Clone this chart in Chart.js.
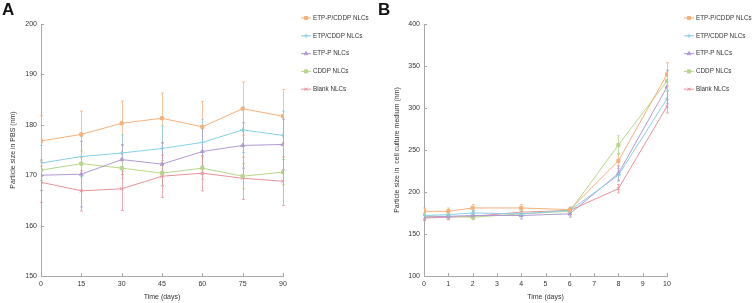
<!DOCTYPE html>
<html>
<head>
<meta charset="utf-8">
<script src="https://cdn.jsdelivr.net/npm/chart.js@4"></script>
<style>
  body { margin: 0; background: #fff; }
  .panel { position: absolute; top: 0; height: 303px; }
  #wrapA { left: 0; width: 376px; }
  #wrapB { left: 376px; width: 377px; }
</style>
</head>
<body>
<div class="panel" id="wrapA"><canvas id="chartA"></canvas></div>
<div class="panel" id="wrapB"><canvas id="chartB"></canvas></div>
<script>
// series names / colours
const seriesNames = ['ETP-P/CDDP NLCs', 'ETP/CDDP NLCs', 'ETP-P NLCs', 'CDDP NLCs', 'Blank NLCs'];
const seriesColors = ['#f6b07a', '#86d0e4', '#b29ad4', '#b6d68a', '#e6929a'];
const pointStyles = ['rect', 'cross', 'triangle', 'rect', 'crossRot'];

// panel A: PBS, days 0-90
const daysA = [0, 15, 30, 45, 60, 75, 90];
const pbsEtpPCddp = [176.8, 178.1, 180.3, 181.3, 179.6, 183.2, 181.7];
const pbsEtpCddp  = [172.4, 173.7, 174.4, 175.3, 176.5, 179.0, 177.9];
const pbsEtpP     = [170.0, 170.2, 173.1, 172.2, 174.7, 175.9, 176.1];
const pbsCddp     = [171.0, 172.3, 171.4, 170.4, 171.4, 169.8, 170.6];
const pbsBlank    = [168.6, 166.9, 167.3, 169.8, 170.4, 169.4, 168.8];
const pbsErrEtpPCddp = [5.0, 4.6, 4.4, 5.0, 5.0, 5.3, 5.3];
const pbsErrEtpCddp  = [3.5, 4.0, 3.6, 4.5, 4.6, 4.5, 4.8];
const pbsErrEtpP     = [3.0, 6.5, 3.0, 4.3, 4.5, 4.5, 5.0];
const pbsErrCddp     = [2.0, 2.5, 2.0, 2.5, 2.2, 2.5, 2.5];
const pbsErrBlank    = [4.0, 4.0, 4.3, 4.2, 3.5, 4.2, 4.8];

// panel B: cell culture medium, days 0-10
const daysB = [0, 1, 2, 4, 6, 8, 10];
const ccmEtpPCddp = [177, 177, 181, 181, 179, 237, 340];
const ccmEtpCddp  = [172, 173, 175, 174, 178, 220, 311];
const ccmEtpP     = [170, 171, 172, 172, 174, 222, 325];
const ccmCddp     = [171, 171, 170, 174, 177, 256, 332];
const ccmBlank    = [169, 170, 171, 176, 178, 204, 302];
const ccmErrEtpPCddp = [4, 4, 4, 4, 3, 9, 14];
const ccmErrEtpCddp  = [3, 3, 3, 3, 4, 6, 10];
const ccmErrEtpP     = [3, 3, 3, 4, 4, 9, 20];
const ccmErrCddp     = [3, 3, 3, 3, 4, 11, 12];
const ccmErrBlank    = [3, 3, 3, 3, 3, 5, 8];

const font = "'Liberation Sans', Arial, sans-serif";

function makeDatasets(xs, values, errors) {
  return values.map((vals, i) => ({
    label: seriesNames[i],
    data: xs.map((x, j) => ({ x: x, y: vals[j], err: errors[i][j] })),
    borderColor: seriesColors[i],
    backgroundColor: seriesColors[i],
    borderWidth: 1,
    pointStyle: pointStyles[i],
    pointRadius: 2.2,
    pointBorderWidth: 1,
    tension: 0
  }));
}

// error bars + inward ticks + legend + panel letter
const extrasPlugin = {
  id: 'extras',
  beforeDatasetsDraw(chart, args, opts) {
    const ctx = chart.ctx;
    const xs = chart.scales.x, ys = chart.scales.y;
    ctx.save();
    chart.data.datasets.forEach((ds, i) => {
      ctx.strokeStyle = ds.borderColor;
      ctx.globalAlpha = 0.75;
      ctx.lineWidth = 1;
      ds.data.forEach(p => {
        const px = Math.round(xs.getPixelForValue(p.x)) + 0.5;
        const top = ys.getPixelForValue(p.y + p.err);
        const bot = ys.getPixelForValue(p.y - p.err);
        ctx.beginPath();
        ctx.moveTo(px, top); ctx.lineTo(px, bot);
        ctx.moveTo(px - 1.5, top); ctx.lineTo(px + 1.5, top);
        ctx.moveTo(px - 1.5, bot); ctx.lineTo(px + 1.5, bot);
        ctx.stroke();
      });
    });
    ctx.restore();
  },
  afterDraw(chart, args, opts) {
    const ctx = chart.ctx;
    const area = chart.chartArea;
    const xs = chart.scales.x, ys = chart.scales.y;
    ctx.save();
    // ticks pointing into the plot
    ctx.strokeStyle = '#a8a8a8';
    ctx.lineWidth = 1;
    ctx.beginPath();
    xs.ticks.forEach(t => {
      const px = Math.round(xs.getPixelForValue(t.value)) + 0.5;
      ctx.moveTo(px, area.bottom); ctx.lineTo(px, area.bottom - 3);
    });
    ys.ticks.forEach(t => {
      const py = Math.round(ys.getPixelForValue(t.value)) + 0.5;
      ctx.moveTo(area.left, py); ctx.lineTo(area.left + 3, py);
    });
    ctx.stroke();

    // legend
    ctx.font = '6.3px ' + font;
    ctx.textBaseline = 'middle';
    chart.data.datasets.forEach((ds, i) => {
      const y = opts.legendTop + i * 17.8;
      ctx.strokeStyle = ds.borderColor;
      ctx.fillStyle = ds.borderColor;
      ctx.beginPath();
      ctx.moveTo(opts.legendX, y); ctx.lineTo(opts.legendX + 10, y);
      ctx.stroke();
      Chart.helpers.drawPoint(ctx, { pointStyle: ds.pointStyle, radius: 2.2, borderWidth: 1 }, opts.legendX + 5, y);
      ctx.fillStyle = '#333';
      ctx.fillText(ds.label, opts.legendX + 12, y);
    });

    // panel letter
    ctx.fillStyle = '#111';
    ctx.font = 'bold 17px ' + font;
    ctx.textBaseline = 'alphabetic';
    ctx.fillText(opts.letter, 2, 15);
    ctx.restore();
  }
};

function makeChart(id, xs, values, errors, cfg) {
  return new Chart(document.getElementById(id), {
    type: 'line',
    data: { datasets: makeDatasets(xs, values, errors) },
    plugins: [extrasPlugin],
    options: {
      responsive: true,
      maintainAspectRatio: false,
      animation: false,
      layout: { padding: { top: 24, right: cfg.padRight, left: 0, bottom: 0 } },
      plugins: {
        legend: { display: false },
        tooltip: { enabled: false },
        extras: { legendX: cfg.legendX, legendTop: 18, letter: cfg.letter }
      },
      scales: {
        x: {
          type: 'linear',
          min: cfg.xMin, max: cfg.xMax,
          grid: { display: false, drawTicks: false },
          border: { color: '#a8a8a8', width: 1 },
          ticks: { stepSize: cfg.xStep, color: '#333', padding: 4, font: { size: 7, family: font } },
          title: { display: true, text: 'Time (days)', color: '#333', padding: { top: 0, bottom: 2 }, font: { size: 7, family: font } },
          afterFit(scale) { scale.height = 27; }
        },
        y: {
          min: cfg.yMin, max: cfg.yMax,
          grid: { display: false, drawTicks: false },
          border: { color: '#a8a8a8', width: 1 },
          ticks: { stepSize: cfg.yStep, color: '#333', padding: 4, font: { size: 7, family: font } },
          title: { display: true, text: cfg.yTitle, color: '#333', padding: { top: cfg.yTitlePad, bottom: 0 }, font: { size: 7, family: font } },
          afterFit(scale) { scale.width = cfg.yWidth; }
        }
      }
    }
  });
}

makeChart('chartA', daysA,
  [pbsEtpPCddp, pbsEtpCddp, pbsEtpP, pbsCddp, pbsBlank],
  [pbsErrEtpPCddp, pbsErrEtpCddp, pbsErrEtpP, pbsErrCddp, pbsErrBlank],
  { letter: 'A', xMin: 0, xMax: 90, xStep: 15, yMin: 150, yMax: 200, yStep: 10,
    yTitle: 'Particle size in PBS (nm)', yTitlePad: 9, yWidth: 41, padRight: 93, legendX: 301 });

makeChart('chartB', daysB,
  [ccmEtpPCddp, ccmEtpCddp, ccmEtpP, ccmCddp, ccmBlank],
  [ccmErrEtpPCddp, ccmErrEtpCddp, ccmErrEtpP, ccmErrCddp, ccmErrBlank],
  { letter: 'B', xMin: 0, xMax: 10, xStep: 1, yMin: 100, yMax: 400, yStep: 50,
    yTitle: 'Particle size in  cell culture medium (nm)', yTitlePad: 17, yWidth: 48, padRight: 86, legendX: 308 });
</script>
</body>
</html>
